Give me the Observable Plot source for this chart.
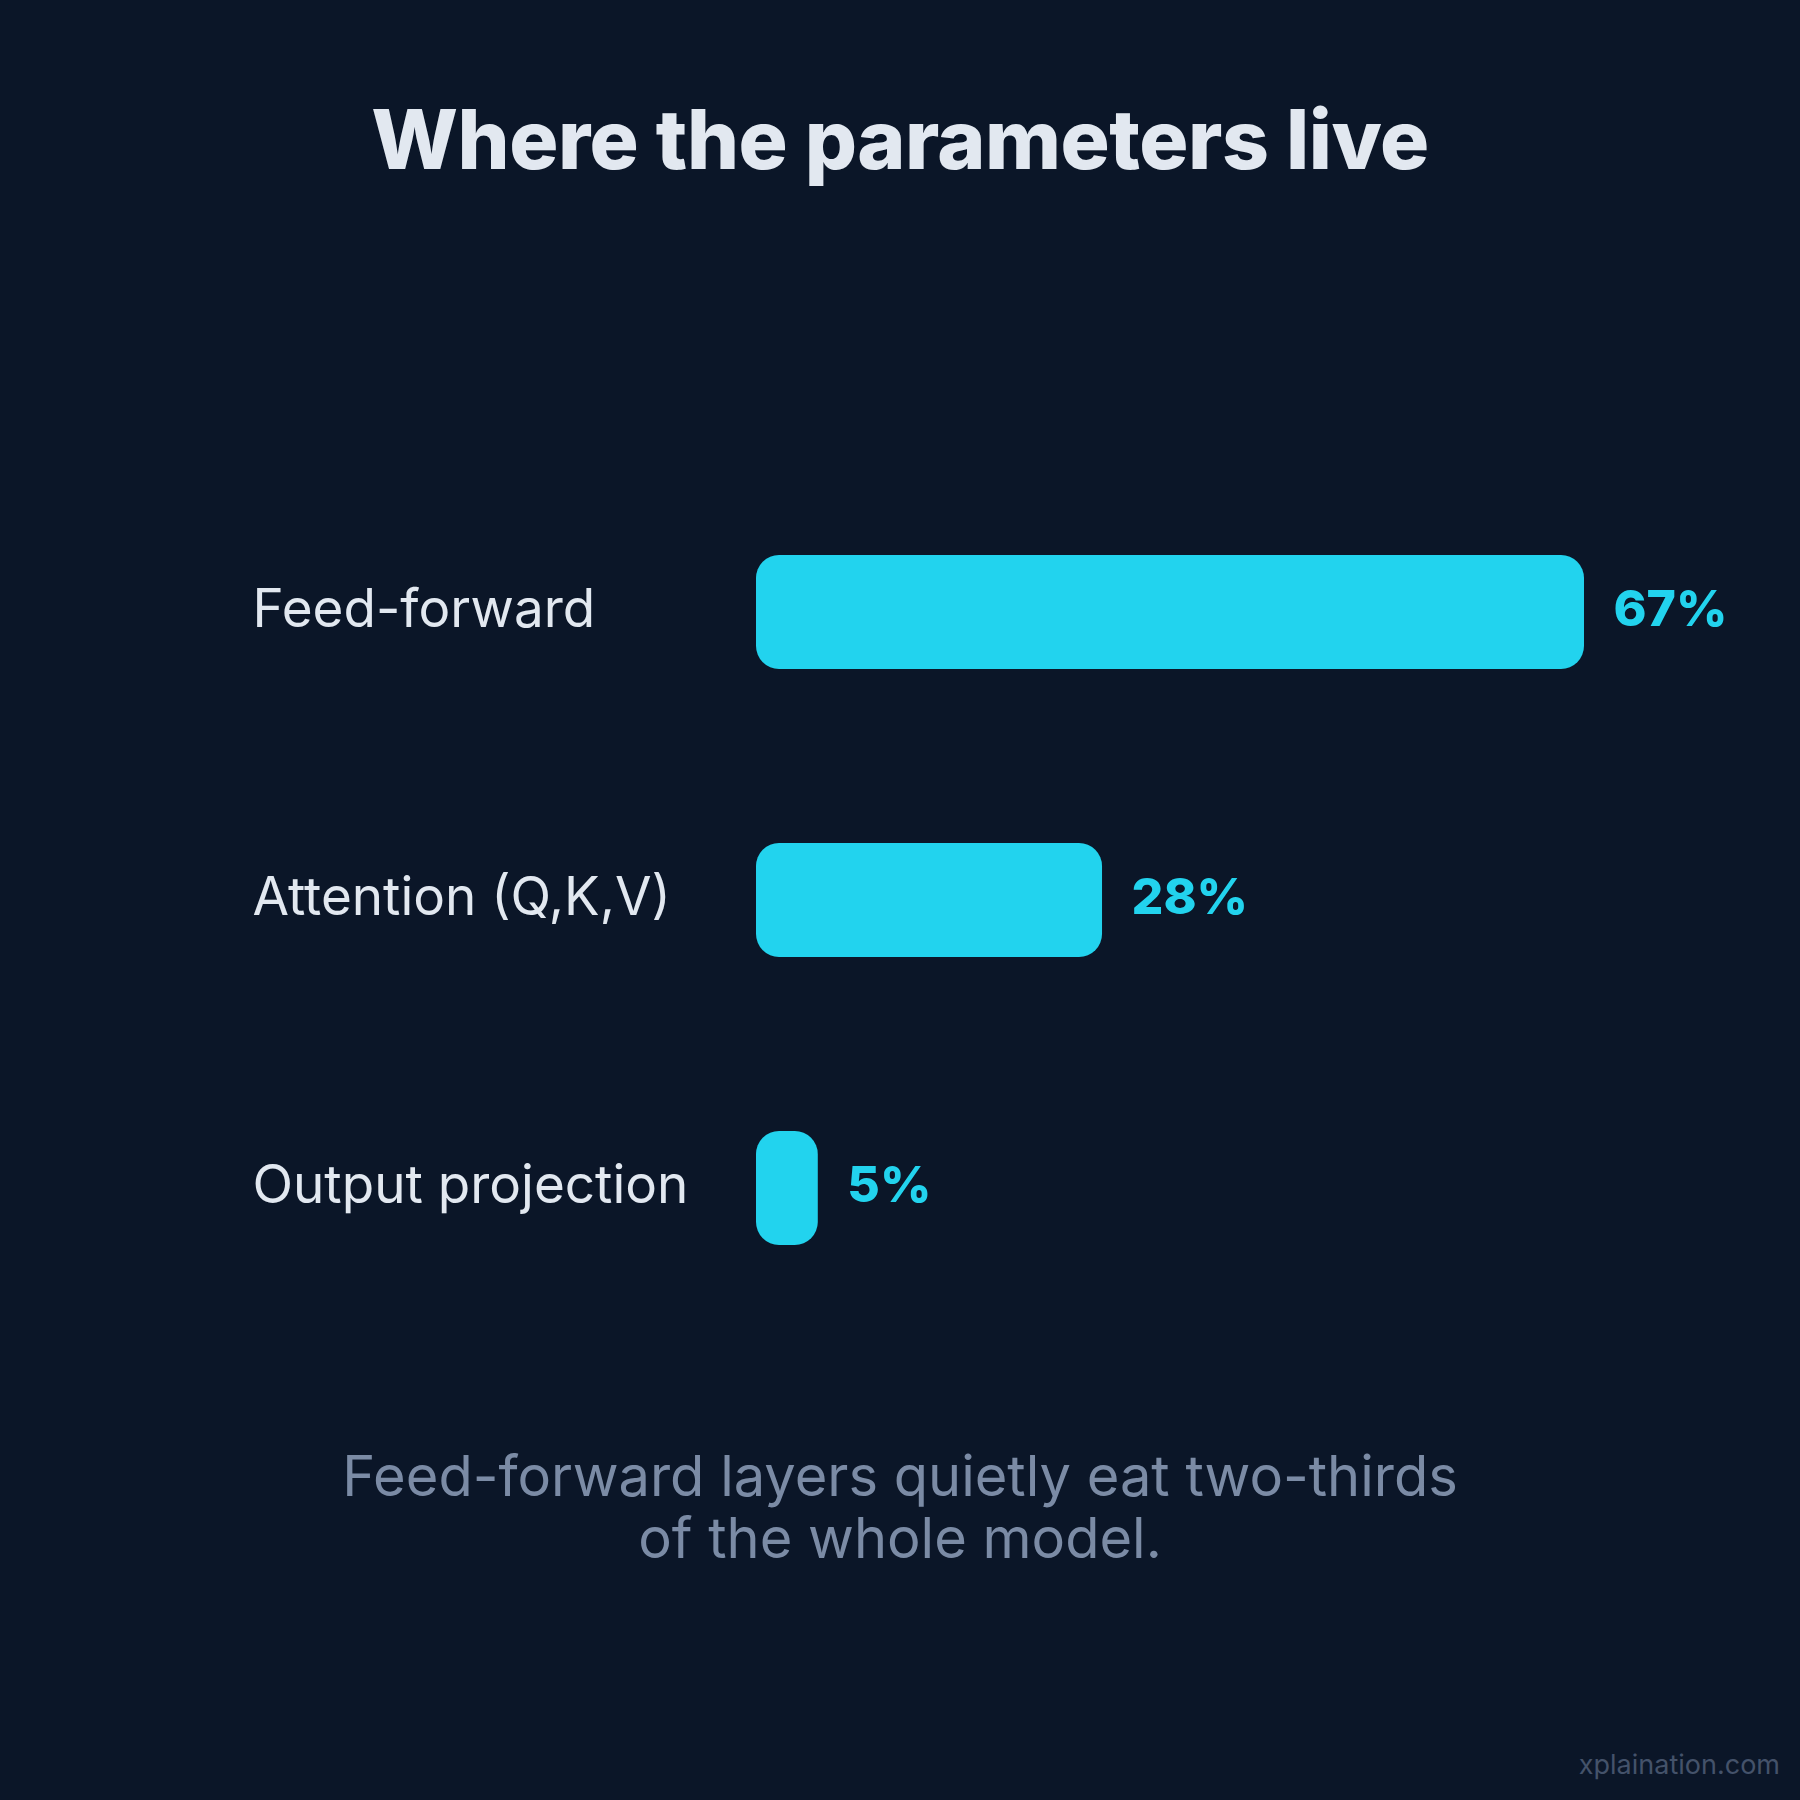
<!DOCTYPE html>
<html>
<head>
<meta charset="utf-8">
<script src="https://cdn.jsdelivr.net/npm/d3@7"></script>
<script src="https://cdn.jsdelivr.net/npm/@observablehq/plot@0.6"></script>
<style>
  html, body { margin: 0; padding: 0; }
  body { width: 1800px; height: 1800px; background: #0b1628; position: relative; overflow: hidden; font-family: Inter, "Noto Sans", sans-serif; }
  #title { position: absolute; top: 99px; left: 0; width: 1800px; text-align: center; font-size: 82px; line-height: 1; font-weight: 800; color: #e2e8f0; letter-spacing: -0.5px; }
  #chart { position: absolute; top: 400px; left: 0; }
  #caption { position: absolute; top: 1445px; left: 0; width: 1800px; text-align: center; font-size: 56px; line-height: 62px; font-weight: 400; color: #7b8ba5; }
  #footer { position: absolute; top: 1751px; right: 20px; font-size: 27px; line-height: 1; color: #44526a; }
</style>
</head>
<body>
<div id="title">Where the parameters live</div>
<div id="chart"></div>
<div id="caption">Feed-forward layers quietly eat two-thirds<br>of the whole model.</div>
<div id="footer">xplaination.com</div>
<script>
const categories = ["Feed-forward", "Attention (Q,K,V)", "Output projection"];
const shares = [67, 28, 5];
const valueLabels = ["67%", "28%", "5%"];

const data = categories.map((c, i) => ({category: c, share: shares[i], label: valueLabels[i]}));

const chart = Plot.plot({
  width: 1800,
  height: 1000,
  marginLeft: 756,
  marginRight: 216,
  marginTop: 68,
  marginBottom: 68,
  style: {background: "transparent", fontFamily: "Inter, 'Noto Sans', sans-serif"},
  x: {domain: [0, 67], axis: null},
  y: {domain: categories, paddingInner: 0.604, paddingOuter: 0.302, axis: null},
  marks: [
    Plot.barX(data, {x: "share", y: "category", fill: "#22d3ee", rx: 23}),
    Plot.text(data, {y: "category", text: "category", frameAnchor: "left", dx: -504, dy: -2, textAnchor: "start", fill: "#e2e8f0", fontSize: 53, fontWeight: 400}),
    Plot.text(data, {x: "share", y: "category", text: "label", dx: 29, dy: -3, textAnchor: "start", fill: "#22d3ee", fontSize: 50, fontWeight: 800})
  ]
});
document.getElementById("chart").appendChild(chart);
</script>
</body>
</html>
